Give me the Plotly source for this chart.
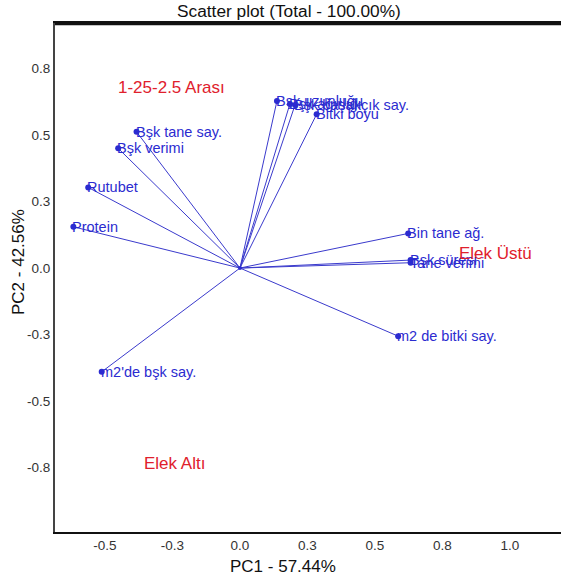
import plotly.graph_objects as go

# Variable loadings (PC1, PC2)
var_names = ["Bşk uzunluğu", "Bşk ağırlığı", "Bşk başakçık say.", "Bitki boyu",
             "Bşk tane say.", "Bşk verimi", "Rutubet", "Protein",
             "Bin tane ağ.", "Bşk süresi", "Tane verimi",
             "m2 de bitki say.", "m2'de bşk say."]
pc1 = [0.137, 0.185, 0.204, 0.284, -0.383, -0.451, -0.562, -0.617,
       0.623, 0.632, 0.632, 0.586, -0.512]
pc2 = [0.628, 0.617, 0.613, 0.578, 0.512, 0.450, 0.303, 0.155,
       0.130, 0.030, 0.020, -0.256, -0.390]

# Group (observation) labels
group_names = ["1-25-2.5 Arası", "Elek Üstü", "Elek Altı"]
group_pc1 = [-0.252, 0.948, -0.241]
group_pc2 = [0.680, 0.053, -0.733]

# Tick labels
tick_vals = [-0.75, -0.5, -0.25, 0.0, 0.25, 0.5, 0.75, 1.0]
tick_text = ["-0.8", "-0.5", "-0.3", "0.0", "0.3", "0.5", "0.8", "1.0"]

BLUE = "#2b2bd0"
RED = "#e0202c"
FONT = "Liberation Sans, Arial, sans-serif"

fig = go.Figure()

# vectors from origin
lx, ly = [], []
for x, y in zip(pc1, pc2):
    lx += [0, x, None]
    ly += [0, y, None]
fig.add_trace(go.Scatter(x=lx, y=ly, mode="lines",
                         line=dict(color="#3a3acc", width=1),
                         hoverinfo="skip", showlegend=False))
fig.add_trace(go.Scatter(x=pc1, y=pc2, mode="markers",
                         marker=dict(color=BLUE, size=6),
                         text=var_names, showlegend=False))
fig.add_trace(go.Scatter(x=[0], y=[0], mode="markers",
                         marker=dict(color=BLUE, size=4),
                         hoverinfo="skip", showlegend=False))

annotations = []
for name, x, y in zip(var_names, pc1, pc2):
    annotations.append(dict(x=x, y=y, text=name, showarrow=False,
                            xanchor="left", yanchor="middle", xshift=-3,
                            font=dict(family=FONT, size=14.5, color=BLUE)))
for name, x, y in zip(group_names, group_pc1, group_pc2):
    annotations.append(dict(x=x, y=y, text=name, showarrow=False,
                            xanchor="center", yanchor="middle",
                            font=dict(family=FONT, size=17, color=RED)))

# title and axis titles (chart is cropped on the right, so centred off-plot)
annotations.append(dict(xref="paper", yref="paper", x=(289 - 55) / 506, y=1,
                        yshift=12, text="Scatter plot (Total - 100.00%)",
                        showarrow=False, xanchor="center", yanchor="middle",
                        font=dict(family=FONT, size=17.3, color="#111")))
annotations.append(dict(xref="paper", yref="paper", x=(283 - 55) / 506, y=0,
                        yshift=-34, text="PC1 - 57.44%",
                        showarrow=False, xanchor="center", yanchor="middle",
                        font=dict(family=FONT, size=17, color="#111")))
annotations.append(dict(xref="paper", yref="paper", x=0, y=(532 - 262) / 509,
                        xshift=-37, text="PC2 - 42.56%", textangle=-90,
                        showarrow=False, xanchor="center", yanchor="middle",
                        font=dict(family=FONT, size=17, color="#111")))

fig.update_layout(
    width=561, height=579,
    margin=dict(l=55, r=0, t=23, b=47),
    plot_bgcolor="white", paper_bgcolor="white",
    annotations=annotations,
    shapes=[dict(type="line", xref="paper", yref="paper", x0=0, x1=1, y0=0.998, y1=0.998,
                 line=dict(color="#111", width=2.5), layer="above")],
    xaxis=dict(range=[-0.685, 1.189], tickvals=tick_vals[1:], ticktext=tick_text[1:],
               showgrid=False, zeroline=False, showline=True, mirror=True,
               linecolor="#111", linewidth=2, ticks="",
               tickfont=dict(family=FONT, size=13.5, color="#333")),
    yaxis=dict(range=[-0.992, 0.921], tickvals=tick_vals[:-1], ticktext=tick_text[:-1],
               showgrid=False, zeroline=False, showline=True, mirror=False,
               linecolor="#444", linewidth=2, ticks="",
               tickfont=dict(family=FONT, size=13.5, color="#333")),
)

fig.write_html("out.html", config={"displayModeBar": False})

# remove the default page margin so the figure sits at the window's top-left
with open("out.html", encoding="utf-8") as f:
    html = f.read()
html = html.replace("<head>", "<head><style>html,body{margin:0;padding:0;overflow:hidden;}</style>", 1)
with open("out.html", "w", encoding="utf-8") as f:
    f.write(html)
